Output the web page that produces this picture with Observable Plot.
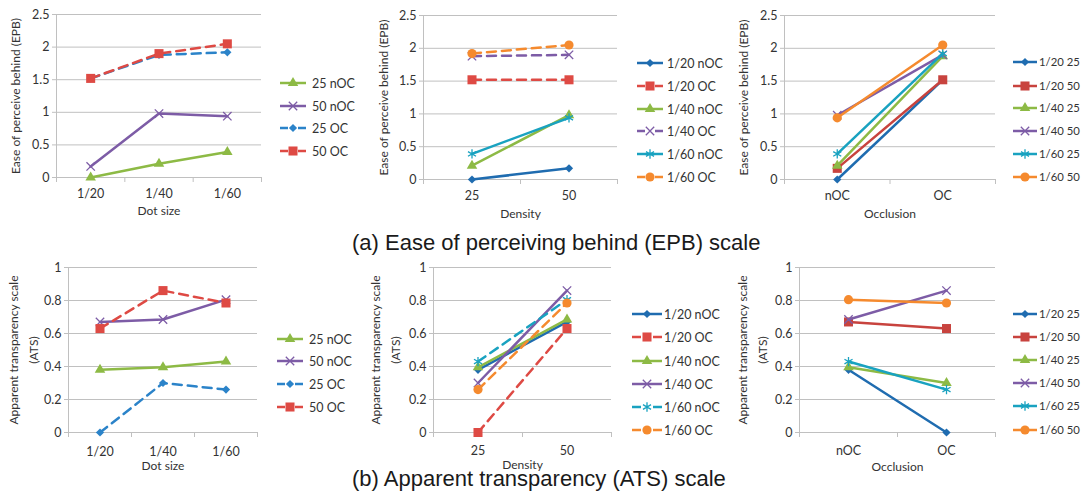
<!DOCTYPE html>
<html><head><meta charset="utf-8">
<script src="https://cdn.jsdelivr.net/npm/d3@7"></script>
<script src="https://cdn.jsdelivr.net/npm/@observablehq/plot@0.6"></script>
<style>
body{margin:0;background:#fff;}
#root{position:relative;width:1082px;height:493px;overflow:hidden;font-family:Lato,sans-serif;background:#fff;}
.abs{position:absolute;}
.caption{position:absolute;left:352px;white-space:nowrap;font-family:"Liberation Sans",Arial,sans-serif;font-size:22px;color:#1a1a1a;line-height:1;}
</style></head><body><div id="root"></div>
<script>
// ---------- DATA ----------
const dotSizes = ["1/20", "1/40", "1/60"];
const densities = ["25", "50"];
const occlusions = ["nOC", "OC"];

const epbTicks = [0, 0.5, 1, 1.5, 2, 2.5];
const atsTicks = [0, 0.2, 0.4, 0.6, 0.8, 1];

// (a) EPB vs dot size
const epbDotNames = ["25 nOC", "50 nOC", "25 OC", "50 OC"];
const epbDotValues = [[0, 0.21, 0.39], [0.17, 0.98, 0.94], [1.52, 1.88, 1.92], [1.52, 1.90, 2.05]];
// (a) EPB vs density
const epbDenNames = ["1/20 nOC", "1/20 OC", "1/40 nOC", "1/40 OC", "1/60 nOC", "1/60 OC"];
const epbDenValues = [[0, 0.17], [1.52, 1.52], [0.21, 0.98], [1.88, 1.90], [0.39, 0.94], [1.92, 2.05]];
// (a) EPB vs occlusion
const epbOccNames = ["1/20 25", "1/20 50", "1/40 25", "1/40 50", "1/60 25", "1/60 50"];
const epbOccValues = [[0, 1.52], [0.17, 1.52], [0.21, 1.88], [0.98, 1.90], [0.39, 1.92], [0.94, 2.05]];

// (b) ATS vs dot size
const atsDotNames = ["25 nOC", "50 nOC", "25 OC", "50 OC"];
const atsDotValues = [[0.38, 0.395, 0.43], [0.67, 0.685, 0.805], [0, 0.30, 0.26], [0.63, 0.86, 0.785]];
// (b) ATS vs density
const atsDenNames = ["1/20 nOC", "1/20 OC", "1/40 nOC", "1/40 OC", "1/60 nOC", "1/60 OC"];
const atsDenValues = [[0.38, 0.67], [0, 0.63], [0.395, 0.685], [0.30, 0.86], [0.43, 0.805], [0.26, 0.785]];
// (b) ATS vs occlusion
const atsOccNames = ["1/20 25", "1/20 50", "1/40 25", "1/40 50", "1/60 25", "1/60 50"];
const atsOccValues = [[0.38, 0], [0.67, 0.63], [0.395, 0.30], [0.685, 0.86], [0.43, 0.26], [0.805, 0.785]];

const captionA = "(a) Ease of perceiving behind (EPB) scale";
const captionB = "(b) Apparent transparency (ATS) scale";

// ---------- STYLES ----------
const C = {blue:"#1f6cb0", blueL:"#2b83c9", red:"#de4a44", redD:"#c8433e", green:"#8dba45", purple:"#7d5ca6", teal:"#19a2c0", orange:"#f58a2e"};
const SYM = {diamond2:3.7, square:5.1, triangle:3.9, times:3.9, asterisk:4.4, circle:4.6};
const st = (color, symbol, dash) => ({color, symbol, dash});
const styleDot = [st(C.green,"triangle",false), st(C.purple,"times",false), st(C.blueL,"diamond2",true), st(C.red,"square",true)];
const styleDenA = [st(C.blue,"diamond2",false), st(C.red,"square",true), st(C.green,"triangle",false), st(C.purple,"times",true), st(C.teal,"asterisk",false), st(C.orange,"circle",true)];
const styleDenB = [st(C.blue,"diamond2",false), st(C.red,"square",true), st(C.green,"triangle",false), st(C.purple,"times",false), st(C.teal,"asterisk",true), st(C.orange,"circle",true)];
const styleOcc = [st(C.blue,"diamond2",false), st(C.redD,"square",false), st(C.green,"triangle",false), st(C.purple,"times",false), st(C.teal,"asterisk",false), st(C.orange,"circle",false)];
const DASH = "9,6";
const GRID = "#c0c0c0";
const TEXT = "#333";
const d3sym = {diamond2:d3.symbolDiamond2, square:d3.symbolSquare, triangle:d3.symbolTriangle, times:d3.symbolTimes, asterisk:d3.symbolAsterisk, circle:d3.symbolCircle};
const strokeSym = s => s === "times" || s === "asterisk";

const root = document.getElementById("root");

function panel(cfg) {
  const {left, top, width, height, mL, mR, mT, mB, cats, names, values, styles, ticks, yLabel, xLabel, yLabelDx, xPad, xLabelDy, lineHeight} = cfg;
  const n = cats.length;
  const bounds = d3.range(n + 1).map(k => k - 0.5);
  const marks = [
    Plot.gridY(ticks, {stroke: GRID, strokeOpacity: 1, strokeWidth: 1}),
    Plot.axisY(ticks, {tickSize: 4, tickPadding: 3, stroke: GRID, strokeOpacity: 1, tickFormat: d3.format("~g"), label: null, fill: TEXT, fontSize: 12.5}),
    Plot.ruleX([-0.5], {stroke: GRID, strokeWidth: 1}),
    Plot.axisX(d3.range(n), {tickSize: 0, tickPadding: xPad, tickFormat: i => cats[i], label: null, fill: TEXT, fontSize: 12.5}),
    Plot.axisX(bounds, {tickSize: 5, tickFormat: () => "", stroke: GRID, strokeOpacity: 1, label: null})
  ];
  names.forEach((name, i) => {
    const s = styles[i];
    const rows = values[i].map((v, j) => ({x: j, y: v, name}));
    marks.push(Plot.line(rows, {x: "x", y: "y", stroke: s.color, strokeWidth: 2.5, strokeDasharray: s.dash ? DASH : null}));
    if (strokeSym(s.symbol)) {
      marks.push(Plot.dot(rows, {x: "x", y: "y", symbol: s.symbol, r: SYM[s.symbol], stroke: s.color, strokeWidth: 1.3, fill: "none"}));
    } else {
      marks.push(Plot.dot(rows, {x: "x", y: "y", symbol: s.symbol, r: SYM[s.symbol], fill: s.color, stroke: "none"}));
    }
  });
  marks.push(Plot.text([xLabel], {text: d => d, frameAnchor: "bottom", dy: xLabelDy, fill: TEXT, fontSize: 12}));
  marks.push(Plot.text([yLabel], {text: d => d, frameAnchor: "left", textAnchor: "middle", lineAnchor: "middle", rotate: -90, dx: yLabelDx, fill: TEXT, fontSize: 12, lineHeight: lineHeight || 1}));
  const svg = Plot.plot({
    width, height, marginLeft: mL, marginRight: mR, marginTop: mT, marginBottom: mB,
    x: {type: "linear", domain: [-0.5, n - 0.5]},
    y: {type: "linear", domain: [ticks[0], ticks[ticks.length - 1]]},
    style: {fontFamily: "Lato, sans-serif", fontSize: "12px", color: TEXT, background: "transparent", overflow: "visible"},
    marks
  });
  svg.classList.add("abs");
  svg.style.left = left + "px";
  svg.style.top = top + "px";
  root.appendChild(svg);
}

function legend(cfg) {
  const {x0, x1, tx, ys, names, styles, fontSize} = cfg;
  const len = x1 - x0, seg = Math.round(len * 0.3);
  const svg = d3.select(root).append("svg").attr("class", "abs")
    .style("left", "0px").style("top", "0px").attr("width", 1082).attr("height", 493)
    .style("overflow", "visible");
  names.forEach((name, i) => {
    const s = styles[i], y = ys[i];
    const g = svg.append("g");
    g.append("line").attr("x1", x0).attr("x2", x1).attr("y1", y).attr("y2", y)
      .attr("stroke", s.color).attr("stroke-width", 2.5).attr("stroke-dasharray", s.dash ? `${seg},${len - 2 * seg}` : null);
    const r = SYM[s.symbol];
    const p = g.append("path").attr("transform", `translate(${(x0 + x1) / 2},${y})`)
      .attr("d", d3.symbol().type(d3sym[s.symbol]).size(r * r * Math.PI)());
    if (strokeSym(s.symbol)) p.attr("fill", "none").attr("stroke", s.color).attr("stroke-width", 1.3);
    else p.attr("fill", s.color);
    g.append("text").attr("x", tx).attr("y", y).attr("dy", "0.36em").attr("fill", TEXT)
      .style("font-family", "Lato, sans-serif").style("font-size", (fontSize || 12.5) + "px").text(name);
  });
}

// ---------- TOP ROW (EPB) ----------
const epbY = "Ease of perceive behind (EPB)";
panel({left: 0, top: 0, width: 270, height: 230, mL: 56, mR: 9, mT: 14, mB: 53,
  cats: dotSizes, names: epbDotNames, values: epbDotValues, styles: styleDot, ticks: epbTicks,
  yLabel: epbY, xLabel: "Dot size", yLabelDx: -40, xPad: 12, xLabelDy: 37});
panel({left: 360, top: 0, width: 265, height: 230, mL: 63, mR: 8, mT: 15, mB: 51,
  cats: densities, names: epbDenNames, values: epbDenValues, styles: styleDenA, ticks: epbTicks,
  yLabel: epbY, xLabel: "Density", yLabelDx: -39, xPad: 12, xLabelDy: 38});
panel({left: 720, top: 0, width: 280, height: 230, mL: 64, mR: 5, mT: 15, mB: 51,
  cats: occlusions, names: epbOccNames, values: epbOccValues, styles: styleOcc, ticks: epbTicks,
  yLabel: epbY, xLabel: "Occlusion", yLabelDx: -40, xPad: 12, xLabelDy: 38});

legend({x0: 280, x1: 306, tx: 312, ys: [83, 106, 128, 151], names: epbDotNames, styles: styleDot});
legend({x0: 637, x1: 663, tx: 667, ys: [63, 86, 109, 131, 154, 177], names: epbDenNames, styles: styleDenA});
legend({x0: 1013, x1: 1037, tx: 1039, ys: [62, 86, 108, 131, 154, 177], names: epbOccNames, styles: styleOcc, fontSize: 11.3});

// ---------- BOTTOM ROW (ATS) ----------
const atsY = "Apparent transparency scale\n(ATS)";
panel({left: 0, top: 250, width: 265, height: 230, mL: 68, mR: 8, mT: 17, mB: 48,
  cats: dotSizes, names: atsDotNames, values: atsDotValues, styles: styleDot, ticks: atsTicks,
  yLabel: atsY, xLabel: "Dot size", yLabelDx: -47, xPad: 15, xLabelDy: 37, lineHeight: 1.65});
panel({left: 360, top: 250, width: 260, height: 230, mL: 73, mR: 9, mT: 17, mB: 48,
  cats: densities, names: atsDenNames, values: atsDenValues, styles: styleDenB, ticks: atsTicks,
  yLabel: atsY, xLabel: "Density", yLabelDx: -50, xPad: 14, xLabelDy: 36, lineHeight: 1.65});
panel({left: 720, top: 250, width: 280, height: 230, mL: 79, mR: 5, mT: 17, mB: 48,
  cats: occlusions, names: atsOccNames, values: atsOccValues, styles: styleOcc, ticks: atsTicks,
  yLabel: atsY, xLabel: "Occlusion", yLabelDx: -49, xPad: 14, xLabelDy: 38, lineHeight: 1.65});

legend({x0: 277, x1: 303, tx: 309, ys: [339, 361, 384, 407], names: atsDotNames, styles: styleDot});
legend({x0: 632, x1: 662, tx: 664, ys: [314, 337, 361, 384, 407, 430], names: atsDenNames, styles: styleDenB});
legend({x0: 1013, x1: 1037, tx: 1039, ys: [314, 337, 360, 383, 406, 430], names: atsOccNames, styles: styleOcc, fontSize: 11.3});

// ---------- CAPTIONS ----------
const ca = document.createElement("div"); ca.className = "caption"; ca.style.top = "232px"; ca.textContent = captionA; root.appendChild(ca);
const cb = document.createElement("div"); cb.className = "caption"; cb.style.top = "468px"; cb.textContent = captionB; root.appendChild(cb);
</script></body></html>
